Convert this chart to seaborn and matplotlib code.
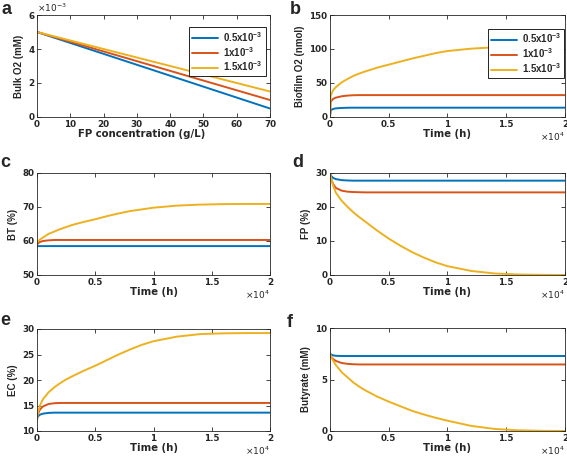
import pandas as pd
import matplotlib.pyplot as plt
import matplotlib.ticker as mticker
import seaborn as sns

# series labels (hue) and MATLAB default colours
RATES = ['0.5x10$^{-3}$', '1x10$^{-3}$', '1.5x10$^{-3}$']
COLORS = ['#0072BD', '#D95319', '#EDB120']

# panel a: bulk O2 vs FP concentration
FP_CONC = [0, 35, 70]
a_blue = [5.0e-3, 2.75e-3, 0.5e-3]
a_red = [5.0e-3, 3.0e-3, 1.0e-3]
a_yellow = [5.0e-3, 3.25e-3, 1.5e-3]

# time axis (h) shared by panels b-f
TIME = [0, 50, 250, 500, 1000, 1500, 2000, 2500, 3000, 4000, 5000,
        6000, 7000, 8000, 9000, 10000, 12000, 14000, 16000, 18000, 20000]

# panel b: biofilm O2 (nmol)
b_blue = [0, 9.8, 11.8, 12.7, 13.3, 13.6, 13.7, 13.7, 13.7, 13.7, 13.7,
          13.7, 13.7, 13.7, 13.7, 13.7, 13.7, 13.7, 13.7, 13.7, 13.7]
b_red = [0, 22, 26.5, 28.5, 30.5, 31.5, 32, 32.2, 32.2, 32.2, 32.2,
         32.2, 32.2, 32.2, 32.2, 32.2, 32.2, 32.2, 32.2, 32.2, 32.2]
b_yellow = [0, 31, 39, 44, 51, 56, 60.5, 64, 67, 72.5, 77,
            81.5, 86, 90, 94, 97, 100.5, 102.5, 103.5, 103.8, 104]

# panel c: BT (%)
c_blue = [58.3, 58.5, 58.5, 58.5, 58.5, 58.5, 58.5, 58.5, 58.5, 58.5, 58.5,
          58.5, 58.5, 58.5, 58.5, 58.5, 58.5, 58.5, 58.5, 58.5, 58.5]
c_red = [58.6, 59.2, 59.7, 60.0, 60.2, 60.3, 60.3, 60.3, 60.3, 60.3, 60.3,
         60.3, 60.3, 60.3, 60.3, 60.3, 60.3, 60.3, 60.3, 60.3, 60.3]
c_yellow = [59.3, 59.7, 60.4, 61.0, 62.1, 62.8, 63.5, 64.1, 64.7, 65.6, 66.4,
            67.3, 68.1, 68.8, 69.3, 69.8, 70.4, 70.7, 70.85, 70.9, 70.9]

# panel d: FP (%)
d_blue = [30, 29.3, 28.6, 28.2, 27.9, 27.8, 27.75, 27.75, 27.75, 27.75, 27.75,
          27.75, 27.75, 27.75, 27.75, 27.75, 27.75, 27.75, 27.75, 27.75, 27.75]
d_red = [30, 28.8, 26.8, 25.6, 24.8, 24.5, 24.4, 24.35, 24.3, 24.3, 24.3,
         24.3, 24.3, 24.3, 24.3, 24.3, 24.3, 24.3, 24.3, 24.3, 24.3]
d_yellow = [30, 29, 26.5, 24.2, 21.8, 20.0, 18.4, 17.0, 15.7, 13.1, 10.7,
            8.6, 6.7, 5.1, 3.7, 2.6, 1.2, 0.45, 0.15, 0.05, 0.0]

# panel e: EC (%)
e_blue = [12.3, 12.8, 13.2, 13.4, 13.55, 13.6, 13.6, 13.6, 13.6, 13.6, 13.6,
          13.6, 13.6, 13.6, 13.6, 13.6, 13.6, 13.6, 13.6, 13.6, 13.6]
e_red = [12.3, 13.2, 14.2, 14.8, 15.3, 15.45, 15.5, 15.5, 15.5, 15.5, 15.5,
         15.5, 15.5, 15.5, 15.5, 15.5, 15.5, 15.5, 15.5, 15.5, 15.5]
e_yellow = [12.3, 13.3, 15.0, 16.2, 17.6, 18.6, 19.4, 20.1, 20.7, 21.8, 22.8,
            23.9, 25.0, 26.0, 26.9, 27.6, 28.5, 29.0, 29.15, 29.2, 29.2]

# panel f: butyrate (mM)
f_blue = [7.55, 7.45, 7.35, 7.3, 7.28, 7.28, 7.28, 7.28, 7.28, 7.28, 7.28,
          7.28, 7.28, 7.28, 7.28, 7.28, 7.28, 7.28, 7.28, 7.28, 7.28]
f_red = [7.55, 7.3, 7.0, 6.8, 6.6, 6.52, 6.48, 6.46, 6.46, 6.46, 6.46,
         6.46, 6.46, 6.46, 6.46, 6.46, 6.46, 6.46, 6.46, 6.46, 6.46]
f_yellow = [7.6, 7.35, 6.85, 6.4, 5.7, 5.2, 4.7, 4.3, 3.95, 3.35, 2.85,
            2.4, 1.95, 1.6, 1.28, 1.0, 0.5, 0.2, 0.07, 0.02, 0.0]


def long_df(x, blue, red, yellow):
    frames = []
    for lab, vals in zip(RATES, [blue, red, yellow]):
        frames.append(pd.DataFrame({'x': x, 'y': vals, 'rate': lab}))
    return pd.concat(frames, ignore_index=True)


sns.set_style('ticks')
# horizontal text looks wide in the reference -> DejaVu; vertical labels narrower
plt.rcParams['font.family'] = ['DejaVu Sans']
plt.rcParams['font.weight'] = 'bold'
plt.rcParams['axes.labelweight'] = 'bold'
plt.rcParams['mathtext.default'] = 'regular'
NARROW = ['Liberation Sans', 'DejaVu Sans']

W, H = 567, 462
fig = plt.figure(figsize=(W / 100, H / 100), dpi=100)

# (left, top, right, bottom) in pixels
boxes = {
    'a': (37, 15, 270, 117), 'b': (330, 15, 565, 117),
    'c': (37, 173, 270, 275), 'd': (330, 173, 565, 275),
    'e': (37, 329, 270, 431), 'f': (330, 328, 565, 431),
}
letters = {'a': (1, 14), 'b': (290, 14), 'c': (0, 167),
           'd': (292, 167), 'e': (0, 325), 'f': (287, 327)}

panels = {
    'a': (FP_CONC, a_blue, a_red, a_yellow, 'Bulk O2 (mM)', [0, 2e-3, 4e-3, 6e-3]),
    'b': (TIME, b_blue, b_red, b_yellow, 'Biofilm O2 (nmol)', [0, 50, 100, 150]),
    'c': (TIME, c_blue, c_red, c_yellow, 'BT (%)', [50, 60, 70, 80]),
    'd': (TIME, d_blue, d_red, d_yellow, 'FP (%)', [0, 10, 20, 30]),
    'e': (TIME, e_blue, e_red, e_yellow, 'EC (%)', [10, 15, 20, 25, 30]),
    'f': (TIME, f_blue, f_red, f_yellow, 'Butyrate (mM)', [0, 5, 10]),
}

for key, (x, bl, rd, yl, ylab, yticks) in panels.items():
    l, t, r, b = boxes[key]
    ax = fig.add_axes([l / W, 1 - b / H, (r - l) / W, (b - t) / H])
    df = long_df(x, bl, rd, yl)
    show_leg = key in ('a', 'b')
    sns.lineplot(data=df, x='x', y='y', hue='rate', hue_order=RATES,
                 palette=COLORS, linewidth=1.4, ax=ax, legend=show_leg)

    ax.set_ylim(yticks[0], yticks[-1])
    ax.set_yticks(yticks)
    if key == 'a':
        ax.set_xlim(0, 70)
        ax.set_xticks(range(0, 71, 10))
        ax.set_xlabel('FP concentration (g/L)', fontsize=7.3, labelpad=0)
        ax.xaxis.label.set_x(0.45)
        ax.yaxis.set_major_formatter(mticker.FuncFormatter(lambda v, p: f'{v / 1e-3:g}'))
        ax.text(0.0, 1.07, r'$\times10^{-3}$', transform=ax.transAxes,
                ha='left', va='center', fontsize=6.5, fontweight='normal')
    else:
        ax.set_xlim(0, 20000)
        ax.set_xticks([0, 5000, 10000, 15000, 20000])
        ax.set_xlabel('Time (h)', fontsize=7.3, labelpad=0)
        ax.xaxis.set_major_formatter(mticker.FuncFormatter(lambda v, p: f'{v / 1e4:g}'))
        ax.text(1.0, -0.19, r'$\times10^{4}$', transform=ax.transAxes,
                ha='right', va='center', fontsize=6.5, fontweight='normal')
    ax.set_ylabel(ylab, fontsize=7, labelpad=3, family=NARROW)

    ax.tick_params(direction='in', length=3, width=0.6, top=True, right=True,
                   labelsize=6.3, pad=2, colors='#262626')
    for s in ax.spines.values():
        s.set_linewidth(0.6)
        s.set_color('#262626')

    if show_leg:
        anchor = (0.99, 0.9) if key == 'a' else (1.005, 0.885)
        sns.move_legend(ax, 'upper right', bbox_to_anchor=anchor, title=None,
                        frameon=True, fancybox=False, framealpha=1,
                        edgecolor='black', handlelength=2.7,
                        prop={'family': NARROW, 'weight': 'bold', 'size': 7},
                        labelspacing=0.1, borderpad=0.3, handletextpad=0.5,
                        borderaxespad=0.2)
        leg = ax.get_legend()
        leg.get_frame().set_linewidth(0.6)
        for h in leg.legend_handles:
            h.set_linewidth(1.4)

    lx, ly = letters[key]
    fig.text(lx / W, 1 - ly / H, key, fontsize=13, fontweight='bold',
             ha='left', va='baseline', family=NARROW)

fig.savefig('out.png', dpi=100)
